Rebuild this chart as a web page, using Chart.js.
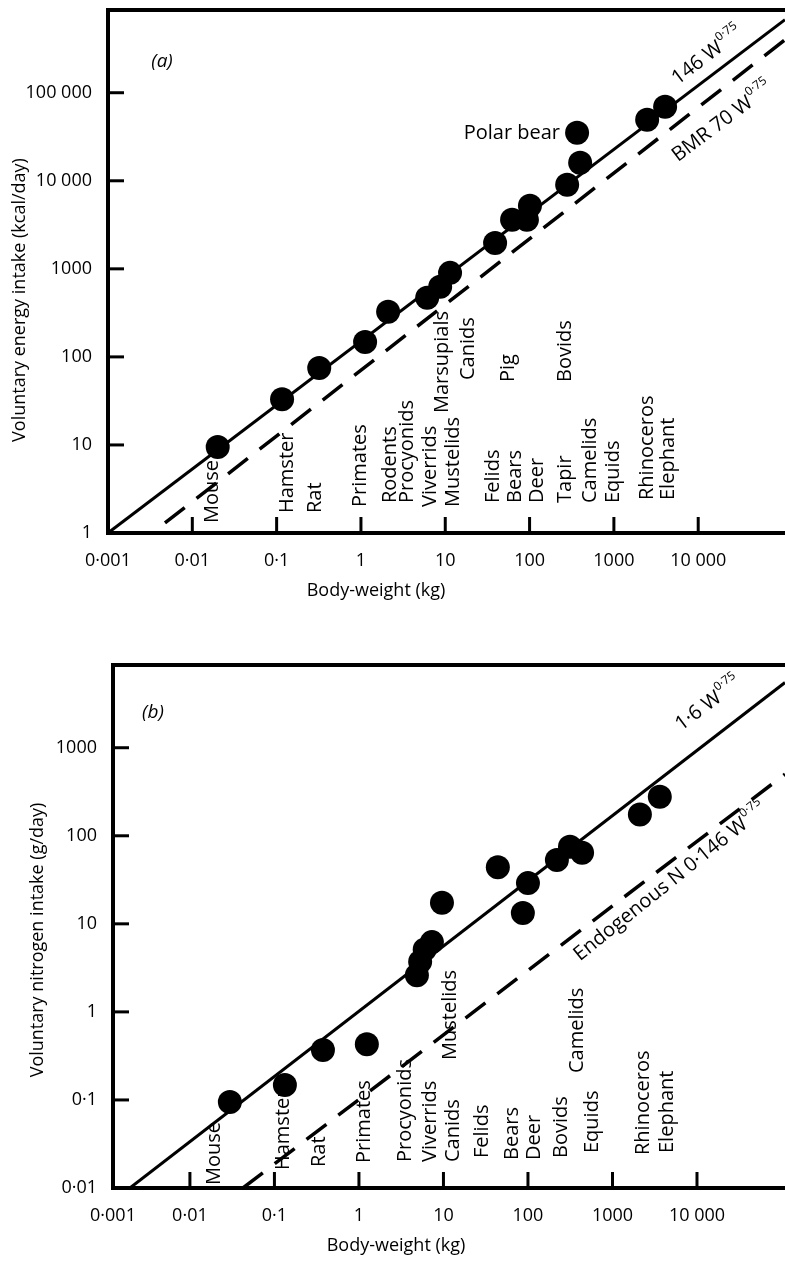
<!DOCTYPE html>
<html>
<head>
<meta charset="utf-8">
<script src="https://cdn.jsdelivr.net/npm/chart.js@4.4.1/dist/chart.umd.min.js"></script>
<style>
  html, body { margin: 0; padding: 0; background: #fff; }
  .wrap { position: absolute; left: 0; width: 785px; }
</style>
</head>
<body>
<div class="wrap" style="top:0;height:630px"><canvas id="chartA" width="785" height="630"></canvas></div>
<div class="wrap" style="top:630px;height:632px"><canvas id="chartB" width="785" height="632"></canvas></div>
<script>
// ---- (a) voluntary energy intake vs body weight ----
const energyWeight = [0.020, 0.116, 0.32, 1.12, 2.1, 6.1, 8.7, 11.4, 39, 62, 93, 101, 279, 398, 366, 2480, 4050];
const energyIntake = [9.5, 33, 75, 148, 325, 470, 627, 900, 1970, 3600, 3600, 5200, 9000, 16000, 35100, 49300, 69500];
const energyFit = [[0.001, 1], [1.07e5, 676000]];      // 146 W^0.75
const energyBmr = [[0.00474, 1.3], [1.07e5, 400000]];  // BMR 70 W^0.75
const energyXTicks = [0.001, 0.01, 0.1, 1, 10, 100, 1000, 10000];
const energyXLabels = ['0·001', '0·01', '0·1', '1', '10', '100', '1000', '10 000'];
const energyYTicks = [1, 10, 100, 1000, 10000, 100000];
const energyYLabels = ['1', '10', '100', '1000', '10 000', '100 000'];
const energyTaxa = ['Mouse', 'Hamster', 'Rat', 'Primates', 'Rodents', 'Procyonids', 'Viverrids', 'Marsupials',
  'Mustelids', 'Canids', 'Felids', 'Pig', 'Bears', 'Deer', 'Bovids', 'Tapir', 'Camelids', 'Equids', 'Rhinoceros', 'Elephant'];
const energyTaxaWeight = [0.0171, 0.133, 0.286, 0.975, 2.21, 3.52, 6.6, 9.2, 12.4, 18.6, 36.9, 55.6, 67.3, 123, 264, 264, 522, 977, 2480, 4400];

// ---- (b) voluntary nitrogen intake vs body weight ----
const nitrogenWeight = [0.0297, 0.133, 0.375, 1.24, 4.85, 5.3, 6.0, 7.3, 9.6, 44, 87, 100, 220, 314, 437, 2110, 3630];
const nitrogenIntake = [0.095, 0.148, 0.37, 0.43, 2.6, 3.7, 5.1, 6.2, 17.4, 44, 13.3, 29, 53, 75, 64, 174, 277];
const nitrogenFit = [[0.00195, 0.01], [1.1e5, 5500]];   // 1.6 W^0.75
const nitrogenEndo = [[0.0424, 0.01], [1.1e5, 500]];    // endogenous N 0.146 W^0.75
const nitrogenXTicks = [0.001, 0.01, 0.1, 1, 10, 100, 1000, 10000];
const nitrogenXLabels = ['0·001', '0·01', '0·1', '1', '10', '100', '1000', '10 000'];
const nitrogenYTicks = [0.01, 0.1, 1, 10, 100, 1000];
const nitrogenYLabels = ['0·01', '0·1', '1', '10', '100', '1000'];
const nitrogenTaxa = ['Mouse', 'Hamster', 'Rat', 'Primates', 'Procyonids', 'Viverrids', 'Canids', 'Mustelids',
  'Felids', 'Bears', 'Deer', 'Bovids', 'Camelids', 'Equids', 'Rhinoceros', 'Elephant'];
const nitrogenTaxaWeight = [0.0192, 0.126, 0.336, 1.15, 3.5, 6.9, 12.9, 11.9, 28.6, 64.7, 118, 245, 380, 571, 2290, 4410];

// layout: how far above the x axis each rotated taxon name starts (px)
const energyTaxaLift = [10, 20, 20, 26, 30, 30, 26, 120, 26, 153, 30, 151, 30, 30, 151, 30, 30, 30, 33, 33];
const nitrogenTaxaLift = [3, 18, 21, 25, 26, 26, 26, 128, 30, 28, 28, 30, 115, 35, 33, 35];

const FONT = '"Open Sans", "DejaVu Sans", sans-serif';
const pts = (xs, ys) => xs.map((v, i) => ({ x: v, y: ys[i] }));
const seg = (pairs) => pairs.map(p => ({ x: p[0], y: p[1] }));

function drawPower(ctx, main, sup, cx, cy, angle) {
  ctx.save();
  ctx.translate(cx, cy);
  ctx.rotate(angle * Math.PI / 180);
  ctx.font = '20px ' + FONT;
  const wm = ctx.measureText(main).width;
  ctx.font = '12px ' + FONT;
  const ws = ctx.measureText(sup).width;
  const x0 = -(wm + ws) / 2;
  ctx.textAlign = 'left';
  ctx.textBaseline = 'middle';
  ctx.font = '20px ' + FONT;
  ctx.fillText(main, x0, 0);
  ctx.font = '12px ' + FONT;
  ctx.fillText(sup, x0 + wm + 1, -8);
  ctx.restore();
}

function decor(o) {
  return {
    id: 'decor',
    afterDraw(chart) {
      const { ctx, chartArea: a, scales: { x, y } } = chart;
      ctx.save();
      ctx.strokeStyle = '#000';
      ctx.fillStyle = '#000';
      ctx.lineCap = 'butt';
      // top frame line
      ctx.lineWidth = 4;
      ctx.beginPath(); ctx.moveTo(a.left - 2, a.top); ctx.lineTo(a.right, a.top); ctx.stroke();
      // tick marks pointing inwards
      ctx.lineWidth = 3;
      x.ticks.slice(1).forEach(t => {
        const px = x.getPixelForValue(t.value);
        ctx.beginPath(); ctx.moveTo(px, a.bottom); ctx.lineTo(px, a.bottom - 16); ctx.stroke();
      });
      y.ticks.slice(1).forEach(t => {
        const py = y.getPixelForValue(t.value);
        ctx.beginPath(); ctx.moveTo(a.left, py); ctx.lineTo(a.left + 16, py); ctx.stroke();
      });
      // taxon names
      ctx.font = '20px ' + FONT;
      ctx.textAlign = 'left';
      ctx.textBaseline = 'middle';
      o.taxa.forEach((name, i) => {
        ctx.save();
        ctx.translate(x.getPixelForValue(o.taxaWeight[i]), a.bottom - o.lift[i]);
        ctx.rotate(-Math.PI / 2);
        ctx.fillText(name, 0, 0);
        ctx.restore();
      });
      // axis titles
      ctx.font = '18px ' + FONT;
      ctx.textAlign = 'center';
      ctx.fillText('Body-weight (kg)', o.xTitle[0], o.xTitle[1]);
      ctx.save();
      ctx.translate(o.yTitle[0], o.yTitle[1]);
      ctx.rotate(-Math.PI / 2);
      ctx.fillText(o.yTitleText, 0, 0);
      ctx.restore();
      // panel letter
      ctx.font = 'italic 19px ' + FONT;
      ctx.fillText(o.panel, o.panelPos[0], o.panelPos[1]);
      // extra notes
      if (o.note) {
        ctx.font = '20px ' + FONT;
        ctx.textAlign = 'right';
        ctx.fillText(o.note[0], o.note[1], o.note[2]);
      }
      o.powers.forEach(p => drawPower(ctx, p[0], '0·75', p[1], p[2], p[3]));
      ctx.restore();
    }
  };
}

function makeChart(id, c) {
  return new Chart(document.getElementById(id), {
    type: 'scatter',
    data: {
      datasets: [
        { data: pts(c.xs, c.ys), backgroundColor: '#000', borderWidth: 0, pointRadius: 12, pointHoverRadius: 12 },
        { data: seg(c.fit), showLine: true, borderColor: '#000', borderWidth: 3, pointRadius: 0 },
        { data: seg(c.dash), showLine: true, borderColor: '#000', borderWidth: 3.5, borderDash: [25, 15], pointRadius: 0 }
      ]
    },
    options: {
      responsive: false,
      animation: false,
      devicePixelRatio: 1,
      layout: { autoPadding: false, padding: { top: c.top, left: 0, right: 0, bottom: 0 } },
      plugins: { legend: { display: false }, tooltip: { enabled: false } },
      scales: {
        x: {
          type: 'logarithmic', min: c.xMin, max: c.xMax,
          afterBuildTicks: s => { s.ticks = c.xTicks.map(v => ({ value: Math.max(v, c.xMin) })); },
          afterFit: s => { s.height = c.xHeight; s.paddingLeft = 0; s.paddingRight = 0; },
          grid: { display: false, drawTicks: false },
          border: { display: true, width: 4, color: '#000' },
          ticks: { autoSkip: false, maxRotation: 0, padding: c.xPad, color: '#000',
                   font: { family: FONT, size: 18 }, callback: (v, i) => c.xLabels[i] }
        },
        y: {
          type: 'logarithmic', min: c.yMin, max: c.yMax,
          afterBuildTicks: s => { s.ticks = c.yTicks.map(v => ({ value: v })); },
          afterFit: s => { s.width = c.yWidth; s.paddingTop = 0; s.paddingBottom = 0; },
          grid: { display: false, drawTicks: false },
          border: { display: true, width: 4, color: '#000' },
          ticks: { autoSkip: false, padding: 16, color: '#000',
                   font: { family: FONT, size: 18 }, callback: (v, i) => c.yLabels[i] }
        }
      }
    },
    plugins: [decor(c.decor)]
  });
}

makeChart('chartA', {
  xs: energyWeight, ys: energyIntake, fit: energyFit, dash: energyBmr,
  xMin: 0.001, xMax: 1.07e5, yMin: 1, yMax: 8.7e5,
  xTicks: energyXTicks, xLabels: energyXLabels, yTicks: energyYTicks, yLabels: energyYLabels,
  top: 10, xHeight: 97, yWidth: 108, xPad: 17,
  decor: {
    taxa: energyTaxa, taxaWeight: energyTaxaWeight, lift: energyTaxaLift,
    xTitle: [376, 591], yTitle: [20, 300], yTitleText: 'Voluntary energy intake (kcal/day)',
    panel: '(a)', panelPos: [162, 62],
    note: ['Polar bear', 560, 133],
    powers: [['146 W', 707, 56, -37], ['BMR 70 W', 722, 122, -37]]
  }
});

makeChart('chartB', {
  xs: nitrogenWeight, ys: nitrogenIntake, fit: nitrogenFit, dash: nitrogenEndo,
  xMin: 0.00123, xMax: 1.1e5, yMin: 0.01, yMax: 8700,
  xTicks: nitrogenXTicks, xLabels: nitrogenXLabels, yTicks: nitrogenYTicks, yLabels: nitrogenYLabels,
  top: 35, xHeight: 74, yWidth: 113, xPad: 17,
  decor: {
    taxa: nitrogenTaxa, taxaWeight: nitrogenTaxaWeight, lift: nitrogenTaxaLift,
    xTitle: [396, 616], yTitle: [38, 310], yTitleText: 'Voluntary nitrogen intake (g/day)',
    panel: '(b)', panelPos: [153, 83],
    note: null,
    powers: [['1·6 W', 708, 74, -37], ['Endogenous N 0·146 W', 670, 252, -38.7]]
  }
});
</script>
</body>
</html>
